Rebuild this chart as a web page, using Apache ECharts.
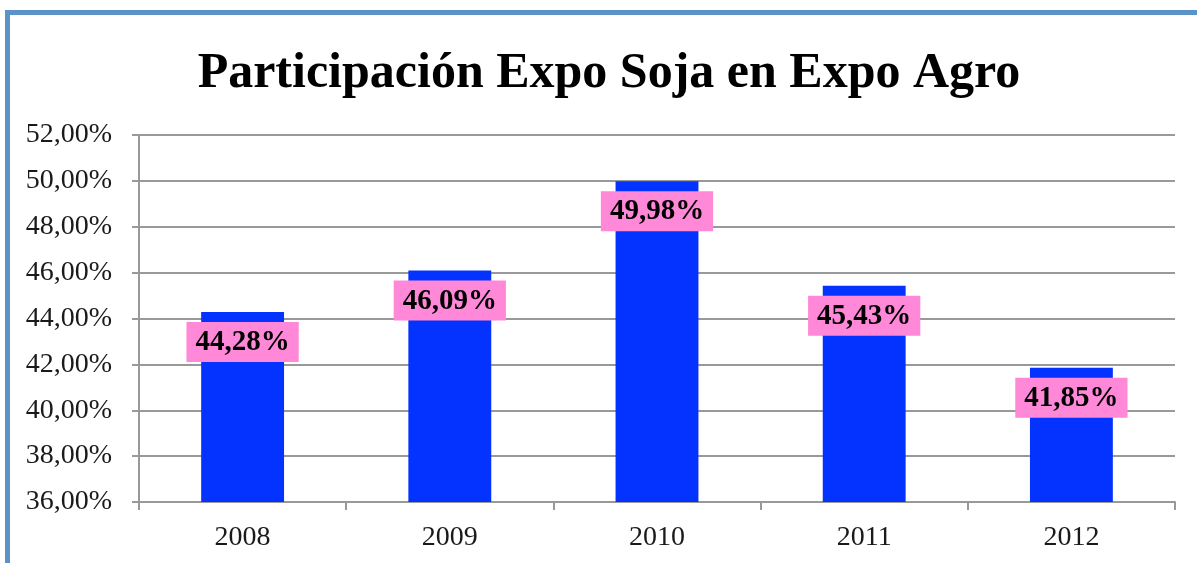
<!DOCTYPE html>
<html>
<head>
<meta charset="utf-8">
<title>Participación Expo Soja en Expo Agro</title>
<script src="https://cdn.jsdelivr.net/npm/echarts@6/dist/echarts.min.js"></script>
<style>
  html, body { margin: 0; padding: 0; background: #ffffff; overflow: hidden; }
  #chart { width: 1197px; height: 563px; }
</style>
</head>
<body>
<div id="chart"></div>
<script>
// datos del grafico
var years = ['2008', '2009', '2010', '2011', '2012'];
var participacion = [44.28, 46.09, 49.98, 45.43, 41.85];
var yMin = 36;
var yMax = 52;
var yStep = 2;

function pct(v) {
    return v.toFixed(2).replace('.', ',') + '%';
}

var myChart = echarts.init(document.getElementById('chart'));
myChart.setOption({
    animation: false,
    backgroundColor: '#ffffff',
    title: {
        text: 'Participación Expo Soja en Expo Agro',
        left: 604,
        textAlign: 'center',
        top: 44,
        textStyle: {
            fontFamily: 'Liberation Serif',
            fontWeight: 'bold',
            fontSize: 50,
            color: '#000000'
        }
    },
    // marco azul
    graphic: [{
        type: 'rect',
        shape: { x: 7.5, y: 12.5, width: 1400, height: 800 },
        style: { fill: 'none', stroke: '#5b93c8', lineWidth: 5 },
        z: 100
    }],
    grid: { left: 139, right: 22, top: 135, bottom: 61 },
    xAxis: {
        type: 'category',
        data: years,
        axisLine: { lineStyle: { color: '#999999', width: 2 } },
        axisTick: { show: true, length: 8, lineStyle: { color: '#999999', width: 2 } },
        axisLabel: {
            margin: 22,
            fontFamily: 'Liberation Serif',
            fontSize: 28,
            color: '#1a1a1a'
        }
    },
    yAxis: {
        type: 'value',
        min: yMin,
        max: yMax,
        interval: yStep,
        axisLine: { show: true, lineStyle: { color: '#999999', width: 2 } },
        axisTick: { show: true, length: 7, lineStyle: { color: '#999999', width: 2 } },
        splitLine: { lineStyle: { color: '#999999', width: 2 } },
        axisLabel: {
            margin: 27,
            fontFamily: 'Liberation Serif',
            fontSize: 28,
            color: '#1a1a1a',
            formatter: function (v) { return pct(v); }
        }
    },
    series: [{
        name: 'Participación',
        type: 'bar',
        data: participacion,
        barWidth: '40%',
        itemStyle: { color: '#0433ff' },
        label: {
            show: true,
            position: 'insideTop',
            distance: 10,
            backgroundColor: '#ff88d8',
            padding: [6, 9, 5, 9],
            fontFamily: 'Liberation Serif',
            fontWeight: 'bold',
            fontSize: 29,
            color: '#000000',
            formatter: function (p) { return pct(p.value); }
        }
    }]
});
</script>
</body>
</html>
